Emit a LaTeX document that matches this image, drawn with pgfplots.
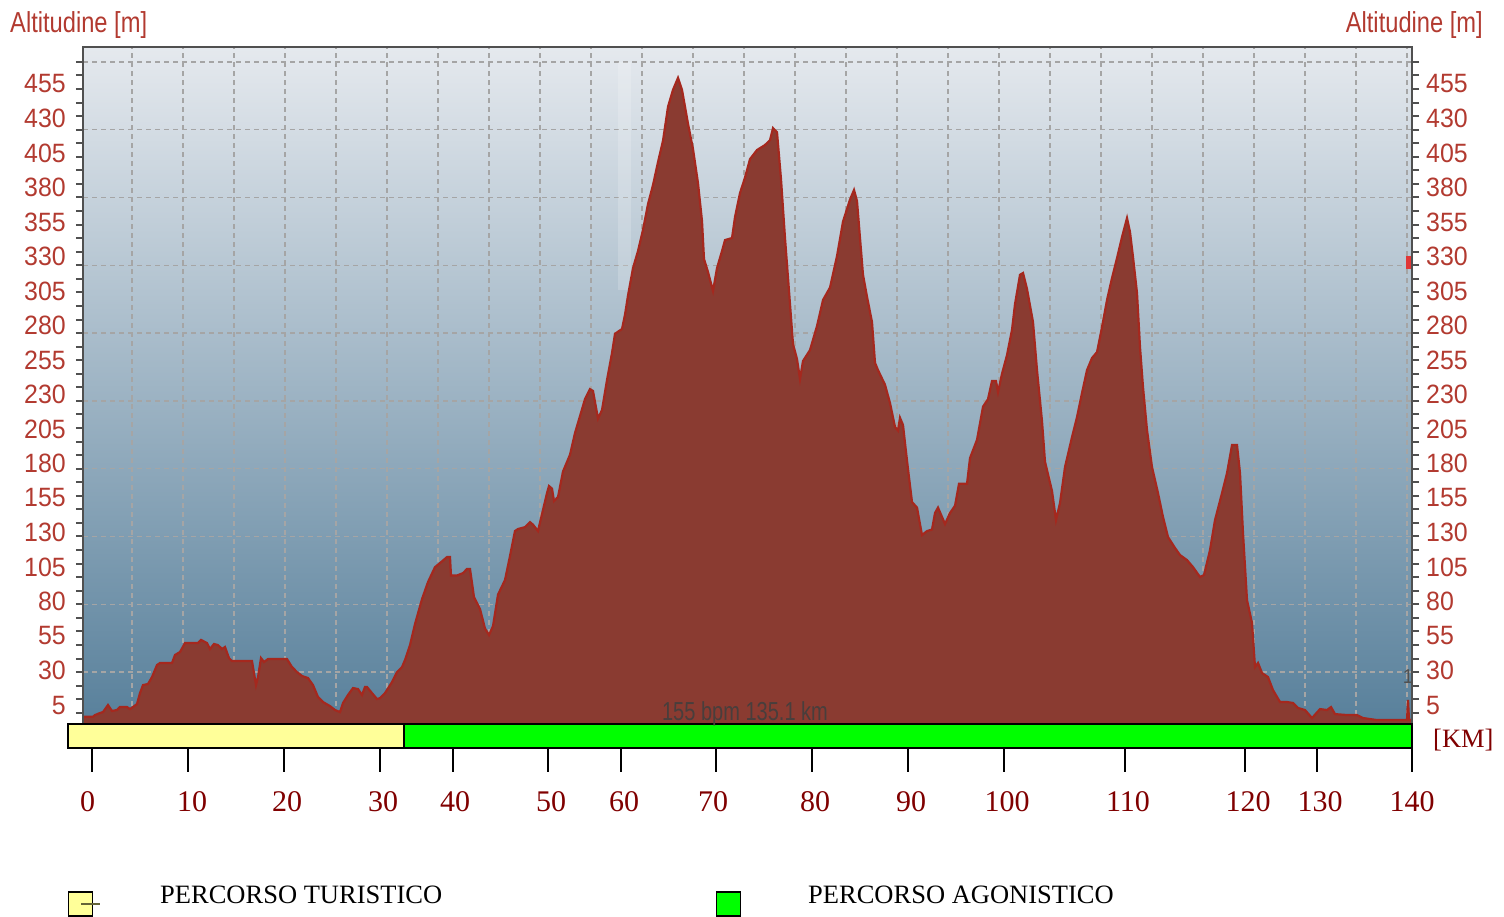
\documentclass[border=0pt]{standalone}
\usepackage{fontspec}
\setmainfont{Liberation Serif}
\newfontfamily\axfont[FakeStretch=0.94]{Liberation Sans}
\newfontfamily\titfont[FakeStretch=0.82]{Liberation Sans}
\newfontfamily\bpmfont[FakeStretch=0.77]{Liberation Sans}
\usepackage{pgfplots}
\pgfplotsset{compat=1.18}
\definecolor{labred}{RGB}{178,58,48}
\definecolor{xlabred}{RGB}{128,0,0}
\definecolor{framegray}{RGB}{80,80,80}
\definecolor{bgtop}{RGB}{229,233,238}
\definecolor{bgbot}{RGB}{88,128,155}
\definecolor{fillred}{RGB}{138,59,49}
\definecolor{linered}{RGB}{165,40,30}
\definecolor{gridgray}{RGB}{165,165,165}
\definecolor{barYellow}{RGB}{255,255,153}
\definecolor{barGreen}{RGB}{0,255,0}
\definecolor{markred}{RGB}{225,55,55}
\definecolor{bpmgray}{RGB}{72,62,60}
\definecolor{olive}{RGB}{100,100,55}
\begin{document}
\begin{tikzpicture}
\useasboundingbox (0bp,0bp) rectangle (1504bp,917bp);
\coordinate (mainpos) at (83bp,193bp);
\coordinate (barpos) at (68bp,169bp);
% main profile axis
\begin{axis}[
  name=main,
  at={(mainpos)}, anchor=south west,
  width=1329bp, height=677bp, scale only axis,
  xmin=0, xmax=132.9, ymin=-8.3, ymax=491,
  axis background/.style={top color=bgtop, bottom color=bgbot},
  axis line style={draw=framegray, line width=2bp},
  xtick={4.9,10,15.1,20.2,25.3,30.4,35.5,40.6,45.7,50.8,55.9,61,66.1,71.2,76.3,81.4,86.5,91.6,96.7,101.8,106.9,112,117.1,122.2,127.3,132.4},
  xticklabels={},
  xmajorgrids=true,
  ytick={5.7,31.1,56.6,82.0,107.5,132.9,158.4,183.8,209.2,234.7,260.1,285.6,311.0,336.5,361.9,387.3,412.8,438.2,463.7},
  yticklabels={5,30,55,80,105,130,155,180,205,230,255,280,305,330,355,380,405,430,455},
  minor ytick={0,10,...,480},
  extra y ticks={30,80,130,180,230,280,330,380,430,480},
  extra y tick labels={},
  extra y tick style={grid=major},
  major tick length=0pt, minor tick length=7bp,
  tick align=outside,
  ytick pos=both, yticklabel pos=left,
  minor tick style={draw=framegray, line width=2bp},
  grid style={draw=gridgray, line width=1.5bp, dash pattern=on 5bp off 4bp},
  yticklabel style={font=\axfont\fontsize{26.5bp}{26.5bp}\selectfont, text=labred, inner sep=0pt, xshift=-17bp},
]
\addplot[fill=white, fill opacity=0.18, draw=none] coordinates {(53.5,311.7) (54.8,311.7) (54.8,480) (53.5,480)} -- cycle;
\addplot[fill=fillred, draw=linered, line width=2.2bp] coordinates {
(0,-12) (0,-2.9) (1.0,-2.9) (1.2,-1.7) (1.7,-0.2) (2.0,0.5) (2.5,5.7) (2.9,1.3) (3.4,2.0) (3.7,4.2)
(4.4,4.2) (4.7,2.7) (5.0,4.2) (5.4,6.4) (5.7,14.5) (6.0,20.4) (6.5,21.2) (6.9,26.3) (7.4,35.2) (7.7,36.7)
(8.9,36.7) (9.2,42.6) (9.7,44.8) (10.2,51.4) (11.5,51.4) (11.8,53.7) (12.4,51.4) (12.7,47.0) (13.1,50.7) (13.5,49.9)
(13.9,47.0) (14.2,48.5) (14.6,40.3) (14.9,38.1) (16.9,38.1) (17.1,29.3) (17.3,20.4) (17.5,26.3) (17.8,40.3) (18.1,37.4)
(18.5,39.6) (20.4,39.6) (20.9,33.7) (21.4,30.0) (21.9,27.1) (22.5,25.6) (23.0,20.4) (23.5,11.6) (24.0,7.9) (24.7,4.9)
(25.2,2.0) (25.7,0.5) (26.0,7.2) (26.5,13.1) (27.0,18.2) (27.5,17.5) (27.9,13.1) (28.2,19.0) (28.4,19.0) (28.9,14.5)
(29.4,10.1) (29.7,10.8) (30.2,14.5) (30.9,22.6) (31.4,30.0) (31.9,33.7) (32.2,38.9) (32.7,49.9) (33.2,65.4) (33.9,83.8)
(34.5,96.4) (35.2,107.4) (35.7,110.4) (36.4,114.8) (36.7,114.8) (36.8,101.2) (37.4,101.2) (38.0,103.0) (38.4,106.0) (38.7,106.0)
(39.1,85.3) (39.7,76.5) (40.2,62.1) (40.6,57.3) (41.0,63.9) (41.5,87.1) (42.2,97.9) (42.7,115.6) (43.2,134.0) (43.5,135.5)
(44.2,136.9) (44.7,140.6) (45.0,138.7) (45.5,134.0) (45.9,146.5) (46.4,162.0) (46.6,167.2) (46.9,165.3) (47.1,156.1) (47.5,159.1)
(48.0,177.9) (48.7,190.3) (49.2,206.3) (49.7,218.8) (50.2,231.3) (50.7,238.7) (51.0,237.3) (51.5,217.0) (51.9,223.2) (52.4,245.4)
(52.9,265.3) (53.2,279.5) (53.9,283.0) (54.2,293.6) (54.5,307.7) (55.0,327.9) (55.5,340.5) (56.0,356.2) (56.5,375.1) (57.0,389.2)
(57.5,406.1) (58.0,421.9) (58.5,446.9) (59.0,459.4) (59.5,468.2) (59.9,459.4) (60.5,434.4) (61.0,415.7) (61.5,390.6) (61.9,362.6)
(62.1,334.6) (62.5,325.0) (63.0,311.0) (63.4,327.9) (63.9,340.5) (64.2,348.6) (64.9,350.1) (65.2,365.6) (65.7,383.3) (66.2,394.7)
(66.7,408.3) (67.4,415.0) (68.2,418.7) (68.7,422.3) (69.0,431.2) (69.4,428.2) (69.8,393.6) (70.2,350.1) (70.7,301.4) (71.0,271.9)
(71.4,260.8) (71.7,246.1) (72.0,259.4) (72.7,267.5) (73.4,285.2) (74.0,304.4) (74.7,313.6) (75.4,336.8) (76.0,362.2) (76.7,378.5)
(77.1,385.5) (77.4,377.4) (77.7,350.1) (78.0,323.0) (78.4,306.8) (78.9,288.1) (79.2,258.1) (79.5,252.7) (80.2,241.9) (80.7,228.4)
(81.2,210.7) (81.5,208.1) (81.7,217.5) (82.0,212.2) (82.2,198.9) (82.5,179.7) (82.9,155.4) (83.4,151.3) (83.9,131.0) (84.4,134.0)
(84.9,135.1) (85.2,147.3) (85.5,151.3) (86.2,139.2) (86.7,147.3) (87.2,152.7) (87.6,168.9) (88.4,168.9) (88.7,187.8) (89.4,201.3)
(90.0,225.7) (90.5,231.3) (90.9,244.6) (91.3,244.6) (91.5,236.5) (91.9,250.0) (92.4,263.8) (92.9,282.4) (93.2,301.4) (93.7,323.0)
(94.0,324.3) (94.4,312.5) (95.0,288.1) (95.4,252.7) (95.9,215.1) (96.2,185.1) (96.9,163.5) (97.3,142.1) (97.7,154.7) (98.2,181.2)
(98.9,203.3) (99.4,218.1) (99.9,235.8) (100.4,252.7) (100.9,261.6) (101.4,266.0) (101.9,284.4) (102.4,304.4) (102.9,320.6) (103.4,335.3)
(103.9,350.8) (104.4,364.8) (104.7,354.5) (105.0,336.1) (105.4,309.5) (105.7,269.7) (106.0,240.2) (106.4,208.5) (106.9,181.2) (107.5,162.0)
(108.0,144.3) (108.5,129.6) (109.2,121.5) (109.7,116.3) (110.4,112.6) (111.0,107.4) (111.7,100.1) (112.1,101.6) (112.7,120.0) (113.2,142.1)
(113.9,162.0) (114.4,176.8) (114.9,197.4) (115.4,197.4) (115.7,176.8) (116.0,132.6) (116.4,83.1) (116.9,66.2) (117.2,33.7) (117.5,36.7)
(117.9,29.3) (118.5,26.3) (119.0,16.7) (119.7,7.9) (120.4,7.9) (121.0,7.2) (121.5,3.5) (122.2,2.0) (122.9,-3.9) (123.7,2.7)
(124.4,2.0) (124.8,4.2) (125.2,-1.0) (126.4,-1.7) (127.4,-1.7) (128.0,-3.9) (129.4,-5.4) (132.4,-5.4) (132.5,9.4) (132.6,-5.4)
(132.9,-5.4) (132.9,-12)
} -- cycle;
\addplot[fill=markred, draw=none] coordinates {(132.3,327.2) (132.9,327.2) (132.9,336.8) (132.3,336.8)} -- cycle;
\end{axis}
% right-hand labels
\begin{axis}[
  at={(mainpos)}, anchor=south west,
  width=1329bp, height=677bp, scale only axis,
  xmin=0, xmax=132.9, ymin=-8.3, ymax=491,
  axis line style={draw=none},
  xtick=\empty,
  ytick={5.7,31.1,56.6,82.0,107.5,132.9,158.4,183.8,209.2,234.7,260.1,285.6,311.0,336.5,361.9,387.3,412.8,438.2,463.7},
  yticklabels={5,30,55,80,105,130,155,180,205,230,255,280,305,330,355,380,405,430,455},
  major tick length=0pt,
  ytick pos=right, yticklabel pos=right,
  yticklabel style={font=\axfont\fontsize{26.5bp}{26.5bp}\selectfont, text=labred, inner sep=0pt, xshift=14bp},
]
\addplot[draw=none] coordinates {(0,0)};
\end{axis}
% frame on top of the profile
\draw[framegray, line width=2bp] (main.south west) -- (main.north west) -- (main.north east) -- (main.south east);
% route bar with km ticks
\begin{axis}[
  at={(barpos)}, anchor=south west,
  width=1344bp, height=24bp, scale only axis,
  xmin=-1.5, xmax=132.9, ymin=0, ymax=1,
  clip=false,
  axis line style={draw=none},
  ytick=\empty,
  xtick={0.45,10.9,20.4,30.0,37.2,46.8,54.1,63.0,73.2,82.8,92.4,104.5,116.5,123.7,132.9},
  xticklabels={0,10,20,30,40,50,60,70,80,90,100,110,120,130,140},
  minor xtick={0.9,10.5,20.1,29.7,37.0,46.5,53.8,63.3,72.9,82.5,92.1,104.2,116.2,123.4,132.9},
  major tick length=0pt, minor tick length=24bp,
  tick align=outside, xtick pos=bottom,
  minor tick style={draw=black, line width=2bp},
  xticklabel style={font=\fontsize{30bp}{30bp}\selectfont, text=xlabred, anchor=north, inner sep=0pt, yshift=-43bp},
]
\addplot[fill=barYellow, draw=black, line width=2bp] coordinates {(-1.5,0) (32.1,0) (32.1,1) (-1.5,1)} -- cycle;
\addplot[fill=barGreen, draw=black, line width=2bp] coordinates {(32.1,0) (132.9,0) (132.9,1) (32.1,1)} -- cycle;
\end{axis}
% texts
\node[anchor=base west, inner sep=0pt, text=labred, font=\titfont\fontsize{28.9bp}{30bp}\selectfont] at (10bp,884bp) {Altitudine [m]};
\node[anchor=base east, inner sep=0pt, text=labred, font=\titfont\fontsize{28.9bp}{30bp}\selectfont] at (1483bp,884bp) {Altitudine [m]};
\node[anchor=base, inner sep=0pt, text=bpmgray, font=\bpmfont\fontsize{26bp}{26bp}\selectfont] at (745bp,196bp) {155 bpm 135.1 km};
\node[anchor=base, inner sep=0pt, text=framegray, font=\axfont\fontsize{20bp}{20bp}\selectfont] at (1408bp,233bp) {1};
\node[anchor=base west, inner sep=0pt, text=xlabred, font=\fontsize{26.5bp}{26.5bp}\selectfont] at (1433bp,169bp) {[KM]};
% legend
\filldraw[fill=barYellow, draw=black, line width=1.5bp] (68.5bp,1bp) rectangle (92.5bp,25bp);
\draw[olive, line width=2bp] (81bp,13bp) -- (100bp,13bp);
\node[anchor=base west, inner sep=0pt, font=\fontsize{26.5bp}{26.5bp}\selectfont] at (160bp,14bp) {PERCORSO TURISTICO};
\filldraw[fill=barGreen, draw=black, line width=1.5bp] (716.5bp,1bp) rectangle (740.5bp,25bp);
\node[anchor=base west, inner sep=0pt, font=\fontsize{26.5bp}{26.5bp}\selectfont] at (808bp,14bp) {PERCORSO AGONISTICO};
\end{tikzpicture}
\end{document}
